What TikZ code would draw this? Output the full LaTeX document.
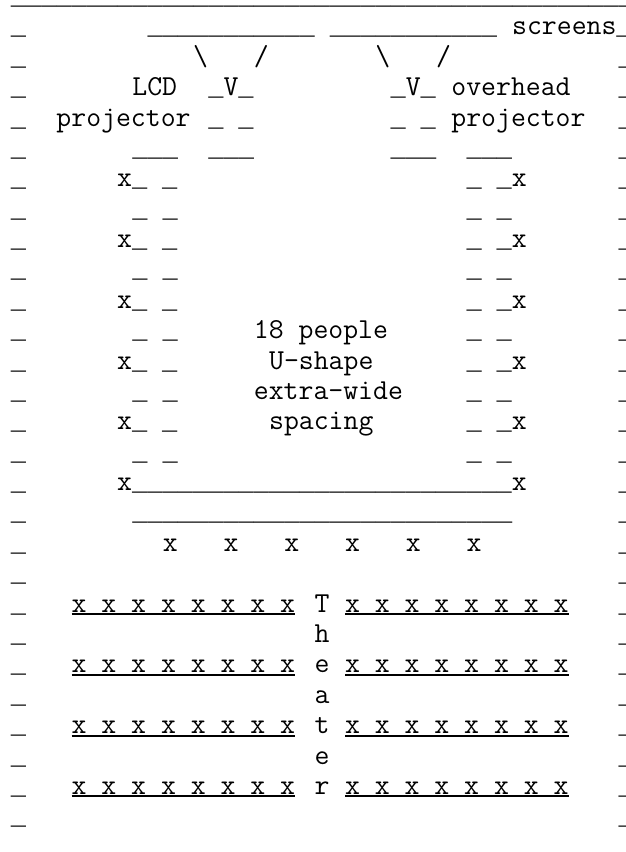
\documentclass[tikz,border=0pt]{standalone}
\usepackage{fontspec}
\newfontfamily\usfam{Liberation Mono}
\usepackage{tikz}

% full-cell underscore, same 15.19pt advance as the typewriter cells
\newcommand{\us}{{\usfam\fontsize{25.32pt}{30.38pt}\selectfont\_}}
\newcommand{\usrun}[1]{\foreach \k in {1,...,#1}{\us}}

\begin{document}
\begin{tikzpicture}[
    x=15.19pt, y=30.38pt,
    cell/.style={anchor=base west, inner sep=0pt, outer sep=0pt, font=\ttfamily\fontsize{28.93pt}{30.38pt}\selectfont},
    seatline/.style={line width=1.8pt}
  ]
  \useasboundingbox (0,0) rectangle (625pt,-852pt);
  \clip (0,0) rectangle (625pt,-852pt);
  \begin{scope}[shift={(10.9pt,-4.5pt)}]
    % frame
    \node[cell] (top) at (0,0) {\usrun{41}};
    \foreach \r in {1,...,27}
      \node[cell] (left\r) at (0,-\r) {\us};
    \foreach \r in {2,...,27}
      \node[cell] (right\r) at (40,-\r) {\us};
    % screens and projectors
    \node[cell] (scrA) at (9,-1) {\usrun{11}};
    \node[cell] (scrB) at (21,-1) {\usrun{11}};
    \node[cell] (scrlabel) at (33,-1) {screens\us};
    \foreach \c in {12,24}
      \node[cell] (beamL\c) at (\c,-2) {\textbackslash};
    \foreach \c in {16,28}
      \node[cell] (beamR\c) at (\c,-2) {/};
    \node[cell] (lcd) at (8,-3) {LCD};
    \node[cell] (projA) at (13,-3) {\us V\us};
    \node[cell] (projB) at (25,-3) {\us V\us};
    \node[cell] (ohp) at (29,-3) {overhead};
    \node[cell] (lcdproj) at (3,-4) {projector};
    \node[cell] (legsA) at (13,-4) {\us\ \us};
    \node[cell] (legsB) at (25,-4) {\us\ \us};
    \node[cell] (ohpproj) at (29,-4) {projector};
    \foreach \c in {8,13,25,30}
      \node[cell] (edge\c) at (\c,-5) {\usrun{3}};
    % U-shape tables
    \foreach \r in {6,8,10,12,14} {
      \node[cell] (seatW\r) at (7,-\r) {x\us\ \us};
      \node[cell] (seatE\r) at (30,-\r) {\us\ \us x};
    }
    \foreach \r in {7,9,11,13,15} {
      \node[cell] (tabW\r) at (8,-\r) {\us\ \us};
      \node[cell] (tabE\r) at (30,-\r) {\us\ \us};
    }
    \node[cell] (note1) at (16,-11) {18 people};
    \node[cell] (note2) at (17,-12) {U-shape};
    \node[cell] (note3) at (16,-13) {extra-wide};
    \node[cell] (note4) at (17,-14) {spacing};
    \node[cell] (tabS) at (7,-16) {x\usrun{25}x};
    \node[cell] (tabB) at (8,-17) {\usrun{25}};
    \foreach \c in {10,14,18,22,26,30}
      \node[cell] (front\c) at (\c,-18) {x};
    % theater rows
    \foreach \r in {20,22,24,26} {
      \node[cell] (rowW\r) at (4,-\r) {x x x x x x x x};
      \node[cell] (rowE\r) at (22,-\r) {x x x x x x x x};
      \draw[seatline] ([yshift=-2pt]rowW\r.base west) -- ([yshift=-2pt]rowW\r.base east);
      \draw[seatline] ([yshift=-2pt]rowE\r.base west) -- ([yshift=-2pt]rowE\r.base east);
    }
    \foreach \r/\ch in {20/T,21/h,22/e,23/a,24/t,25/e,26/r}
      \node[cell] (aisle\r) at (20,-\r) {\ch};
  \end{scope}
\end{tikzpicture}
\end{document}
